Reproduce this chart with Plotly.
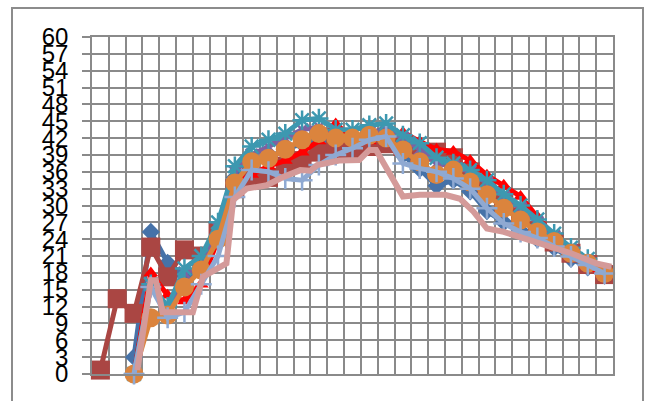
import plotly.graph_objects as go

# Category index (31 readings); the first two readings only exist for series 2
points = list(range(31))
y_ticks = list(range(0, 61, 3))

s1_blue = [None, None, 3, 25.3, 19.8, 17.5, 19.5, 24, 35, 37.5, 38.5, 40, 41, 42, 41, 41.5,
           43, 43.5, 39, 36.5, 33.5, 34.5, 32.5, 29, 27, 25.5, 24, 22.5, 20.5, 19, 17.5]
s2_brown = [0.7, 13.4, 10.8, 22.6, 17.3, 22.1, 21, 25.5, 33, 35, 35, 37, 38, 39.5, 40, 40,
            40.5, 41, 40.5, 39.5, 39.5, 38.5, 36, 33, 30.5, 28, 25.5, 23.5, 21.5, 19.5, 17.7]
s3_red = [None, None, 0, 18, 14, 13, 16, 24, 34, 35.5, 37, 38, 39.5, 41.5, 44.5, 42,
          41.5, 42.5, 43, 41.4, 40, 39.6, 38, 35.4, 33.6, 31.6, 28, 24.5, 21.5, 19.2, 17.5]
s4_purple = [None, None, 0, 16, 11, 18, 19, 26, 36, 39, 40.5, 42, 43.5, 44, 42.5, 42,
             43, 43.5, 42, 40, 37.5, 37, 36, 34, 31.5, 29.5, 27, 24.5, 22, 20, 18]
s5_teal = [None, None, 0, 16, 12, 18.8, 21, 27, 37, 40.5, 41.7, 42.8, 45.2, 45.5, 43.5, 43.5,
           44.3, 44.6, 42.5, 41.1, 38.5, 37.5, 36.3, 34.5, 32, 30, 27.5, 25, 22.5, 20.5, 18]
s6_orange = [None, None, 0, 10, 10.5, 15.5, 18.5, 24, 34, 37.8, 38.4, 40, 41.7, 42.8, 42, 42,
             42.5, 42, 39.9, 37.8, 35.5, 36.3, 34.2, 31.9, 29.5, 27.4, 25.3, 23.6, 21.5, 19.7, 17.9]
s7_lightblue = [None, None, 0, 15.5, 10, 11, 16, 21, 31.5, 36.3, 36, 34.8, 34.5, 37.2, 39, 40.2,
                41.7, 42.3, 37.5, 36.6, 36, 34.8, 33, 29.5, 26.8, 25.3, 24.2, 22.7, 20.9, 19.4, 17.9]

# Series 8 is logged on its own (finer) positions along the category axis
s8_pos = [2.2, 3.0, 3.3, 3.7, 5.5, 6.1, 7.5, 7.9, 8.7, 9.9, 10.9, 11.9, 12.5, 12.9, 14.2, 15.4,
          16.0, 16.4, 18.0, 19.0, 20.5, 21.4, 22.2, 23.0, 24, 25, 26, 27, 28, 29, 29.5, 30.4]
s8_pink = [0.7, 16.7, 16.7, 11.0, 11.0, 17.3, 19.7, 31, 33, 33.6, 35.1, 36.3, 36.2, 37.2, 38.0, 38.1,
           39.9, 39.9, 31.6, 31.9, 31.9, 31.2, 28.9, 25.9, 25.3, 24.4, 23.3, 22.4, 21.5, 20.3, 19.7, 19.1]

fig = go.Figure()

def add_series(x, y, color, symbol, size, width, line_w=0, mcolor=None):
    fig.add_trace(go.Scatter(
        x=x, y=y, mode="lines+markers" if symbol else "lines",
        line=dict(color=color, width=width),
        marker=dict(symbol=symbol or "circle", size=size, color=mcolor or color,
                    line=dict(width=line_w, color=mcolor or color)),
        cliponaxis=False, showlegend=False, connectgaps=False,
    ))

add_series(points, s1_blue, "#4672A8", "diamond", 14, 5)
add_series(points, s2_brown, "#AA4643", "square", 19, 5)
add_series(points, s3_red, "#FF0000", "triangle-up", 13, 5)
add_series(points, s4_purple, "#7E62A1", "x-thin-open", 12, 5, line_w=2.5)
add_series(points, s5_teal, "#3D98B0", "asterisk-open", 16, 5, line_w=2.5)
add_series(points, s6_orange, "#DB843D", "circle", 19, 5)
add_series(points, s7_lightblue, "#8FA9D2", "cross-thin-open", 15, 5, line_w=2.5)
add_series(s8_pos, s8_pink, "#D49A99", None, 0, 6)

grid = "#8A8A8A"
fig.update_layout(
    width=645, height=401,
    margin=dict(l=92, r=32, t=37, b=27),
    paper_bgcolor="white", plot_bgcolor="white",
    font=dict(family="Liberation Sans, Arial, sans-serif", color="black"),
    xaxis=dict(range=[-0.5, 30.5], tickmode="linear", tick0=-0.5, dtick=1,
               showgrid=True, gridcolor=grid, gridwidth=1.5, showticklabels=False,
               ticks="", zeroline=False, showline=True, linecolor=grid, linewidth=1.5,
               mirror=True),
    yaxis=dict(range=[0, 60], tickmode="array", tickvals=y_ticks,
               ticktext=[str(v) for v in y_ticks],
               showgrid=True, gridcolor=grid, gridwidth=1.5, zeroline=False,
               ticks="outside", ticklen=8, tickcolor=grid, tickwidth=1.5,
               showline=True, linecolor=grid, linewidth=1.5, mirror=True,
               tickfont=dict(size=24, color="black"), ticklabelstandoff=9),
    shapes=[dict(type="rect", xref="paper", yref="paper",
                 x0=(12 - 92) / 521, x1=(643 - 92) / 521,
                 y0=(374 - 420) / 337, y1=(374 - 8) / 337,
                 line=dict(color="#8C8C8C", width=2), fillcolor="rgba(0,0,0,0)",
                 layer="below")],
)

fig.write_html("out.html")
